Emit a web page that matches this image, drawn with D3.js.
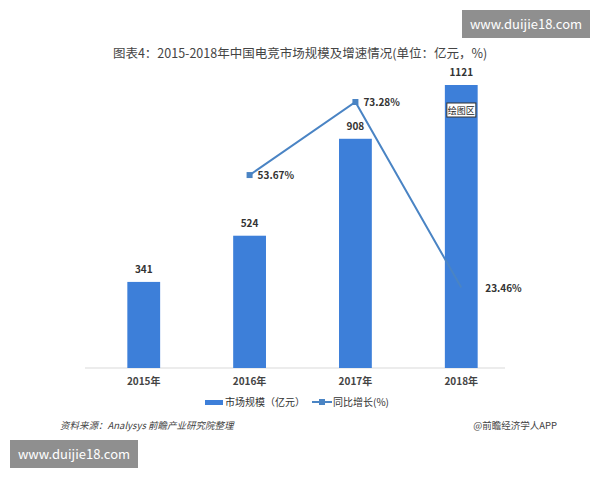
<!DOCTYPE html>
<html><head><meta charset="utf-8">
<script src="https://cdn.jsdelivr.net/npm/d3@7"></script>
<style>body{margin:0;background:#fff;font-family:"Noto Sans CJK SC","Noto Sans",sans-serif}</style>
</head><body><script>
const years = ['2015年', '2016年', '2017年', '2018年'];
const marketSize = [341, 524, 908, 1121];
const growthYears = ['2016年', '2017年', '2018年'];
const growth = [53.67, 73.28, 23.46];

const svg = d3.select('body').append('svg').attr('width', 600).attr('height', 480);
const font = '"Noto Sans CJK SC","Noto Sans",sans-serif';

// watermark boxes
[[462, 10], [10, 440]].forEach(([x, y]) => {
    svg.append('rect').attr('x', x).attr('y', y).attr('width', 128).attr('height', 28).attr('fill', '#8f8f8f');
    svg.append('text').attr('x', x + 64).attr('y', y + 19).attr('text-anchor', 'middle')
        .attr('fill', '#fff').attr('font-size', 13).attr('font-family', font).text('www.duijie18.com');
});

svg.append('text').attr('x', 300).attr('y', 58).attr('text-anchor', 'middle')
    .attr('font-size', 12.5).attr('fill', '#444').attr('font-family', font)
    .text('图表4：2015-2018年中国电竞市场规模及增速情况(单位：亿元，%)');

const x = d3.scaleBand().domain(years).range([85, 520]).paddingInner(0.69).paddingOuter(0.4);
const y = d3.scaleLinear().domain([0, 1121]).range([368, 85]);
const y2 = d3.scaleLinear().domain([0, 73.28]).range([375, 102]);

svg.append('line').attr('x1', 85).attr('x2', 505).attr('y1', 368).attr('y2', 368).attr('stroke', '#d9d9d9');

svg.selectAll('.bar').data(years).join('rect')
    .attr('x', d => x(d)).attr('width', x.bandwidth())
    .attr('y', (d, i) => y(marketSize[i])).attr('height', (d, i) => 368 - y(marketSize[i]))
    .attr('fill', '#3d7fd9');
svg.selectAll('.bl').data(years).join('text')
    .attr('x', d => x(d) + x.bandwidth() / 2).attr('y', (d, i) => y(marketSize[i]) - 9)
    .attr('text-anchor', 'middle').attr('font-size', 10).attr('font-weight', 'bold')
    .attr('fill', '#333').attr('font-family', font).text((d, i) => marketSize[i]);
svg.selectAll('.xl').data(years).join('text')
    .attr('x', d => x(d) + x.bandwidth() / 2).attr('y', 385)
    .attr('text-anchor', 'middle').attr('font-size', 10).attr('font-weight', 'bold')
    .attr('fill', '#444').attr('font-family', font).text(d => d);

const cx = d => x(d) + x.bandwidth() / 2;
svg.append('path').datum(growthYears)
    .attr('d', d3.line().x(d => cx(d)).y((d, i) => y2(growth[i])))
    .attr('fill', 'none').attr('stroke', '#4a84c4').attr('stroke-width', 2);
svg.selectAll('.pt').data(growthYears.slice(0, 2)).join('rect')
    .attr('x', d => cx(d) - 3).attr('y', (d, i) => y2(growth[i]) - 3)
    .attr('width', 6).attr('height', 6).attr('fill', '#4a84c4');
svg.selectAll('.gl').data(growthYears).join('text')
    .attr('x', (d, i) => cx(d) + (i === 2 ? 24 : 8)).attr('y', (d, i) => y2(growth[i]) + 4)
    .attr('font-size', 10).attr('font-weight', 'bold').attr('fill', '#333')
    .attr('font-family', font).text((d, i) => growth[i].toFixed(2) + '%');

// plot-area tooltip artifact
const bx = x('2018年') + 2;
svg.append('rect').attr('x', bx).attr('y', 103).attr('width', 29).attr('height', 14)
    .attr('fill', '#fff').attr('stroke', '#333');
svg.append('text').attr('x', bx + 14.5).attr('y', 114).attr('text-anchor', 'middle')
    .attr('font-size', 9).attr('font-family', font).attr('fill', '#222').text('绘图区');

// legend
const lg = svg.append('g').attr('font-family', font).attr('font-size', 10).attr('fill', '#333');
lg.append('rect').attr('x', 205).attr('y', 400).attr('width', 18).attr('height', 5).attr('fill', '#3d7fd9');
lg.append('text').attr('x', 225).attr('y', 406).text('市场规模（亿元）');
lg.append('line').attr('x1', 312).attr('x2', 332).attr('y1', 402).attr('y2', 402).attr('stroke', '#4a84c4').attr('stroke-width', 2);
lg.append('rect').attr('x', 319).attr('y', 399).attr('width', 6).attr('height', 6).attr('fill', '#4a84c4');
lg.append('text').attr('x', 333).attr('y', 406).text('同比增长(%)');

svg.append('text').attr('x', 60).attr('y', 429).attr('font-size', 9.5).attr('font-style', 'italic')
    .attr('fill', '#444').attr('font-family', font).text('资料来源：Analysys 前瞻产业研究院整理');
svg.append('text').attr('x', 557).attr('y', 429).attr('text-anchor', 'end').attr('font-size', 9.5)
    .attr('fill', '#444').attr('font-family', font).text('@前瞻经济学人APP');
</script></body></html>
